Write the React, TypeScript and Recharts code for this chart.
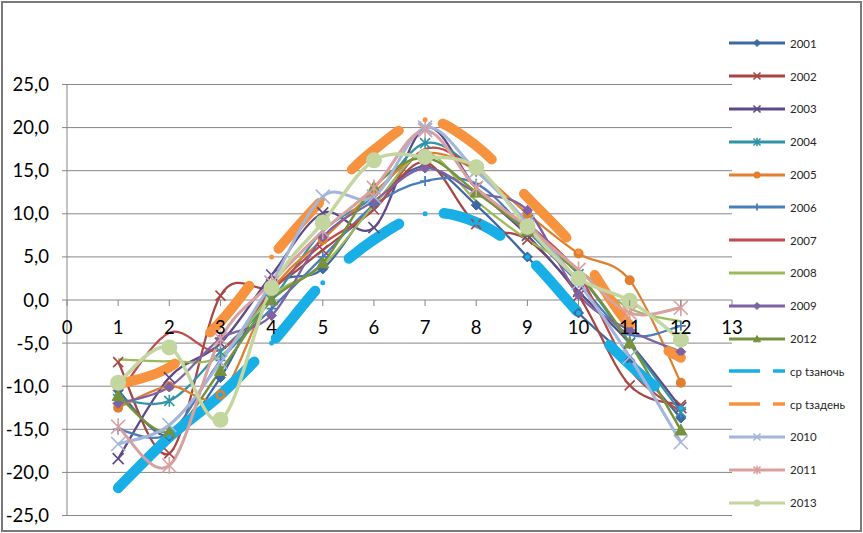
import React from "react";
import { LineChart, Line, XAxis, YAxis, CartesianGrid, Legend } from "recharts";

const MONTHS = [1, 2, 3, 4, 5, 6, 7, 8, 9, 10, 11, 12];
const X_TICKS = [0, 1, 2, 3, 4, 5, 6, 7, 8, 9, 10, 11, 12, 13];
const Y_TICKS = [-25, -20, -15, -10, -5, 0, 5, 10, 15, 20, 25];

const Y2001 = [-10.5, -15.8, -9.0, 1.5, 3.6, 11.2, 15.5, 11.0, 5.0, -1.5, -7.0, -13.7];
const Y2002 = [-7.2, -17.8, 0.5, 1.5, 5.8, 10.5, 16.0, 8.8, 7.0, 0.5, -9.9, -12.2];
const Y2003 = [-18.4, -9.0, -5.0, 2.9, 10.1, 8.4, 20.0, 13.0, 7.5, 1.0, -5.0, -12.5];
const Y2004 = [-11.5, -11.7, -6.0, 0.0, 8.0, 12.0, 18.2, 15.0, 9.0, 3.0, -5.0, -13.0];
const Y2005 = [-12.5, -10.0, -11.0, 1.0, 7.0, 12.5, 17.0, 15.0, 10.0, 5.4, 2.3, -9.6];
const Y2006 = [-15.0, -15.5, -7.0, -1.0, 5.0, 11.0, 13.8, 13.5, 8.0, 2.0, -4.0, -3.0];
const Y2007 = [-11.0, -3.8, -5.8, 1.0, 6.5, 10.5, 17.5, 15.0, 9.0, 3.0, -8.0, -13.0];
const Y2008 = [-6.9, -7.1, -6.5, 0.5, 4.0, 11.0, 17.0, 11.5, 7.0, 3.5, -1.0, -2.5];
const Y2009 = [-12.0, -10.1, -4.5, -1.8, 7.3, 11.5, 15.3, 12.5, 10.4, 0.6, -3.5, -6.0];
const Y2012 = [-11.1, -15.3, -8.2, 0.0, 4.3, 13.1, 16.5, 12.5, 8.0, 3.0, -5.0, -15.1];
const NIGHT = [-21.8, -15.9, -11.0, -5.0, 2.0, 7.0, 10.0, 9.0, 5.0, -1.5, -7.5, -12.5];
const DAY = [-9.8, -7.8, -2.5, 5.0, 11.7, 17.4, 20.9, 17.9, 11.9, 5.6, -2.9, -6.7];
const Y2010 = [-16.7, -14.5, -7.2, 2.0, 12.0, 12.0, 20.0, 15.0, 9.0, 2.0, -6.6, -16.5];
const Y2011 = [-14.7, -19.2, -4.5, 2.0, 8.0, 13.0, 19.7, 13.0, 8.5, 3.5, -1.5, -0.9];
const Y2013 = [-9.6, -5.5, -13.9, 1.4, 9.0, 16.2, 16.6, 15.4, 8.5, 2.5, -0.1, -4.6];

type Shape = "none" | "circle" | "diamond" | "triangle" | "x" | "star" | "plus" | "dot";

interface SeriesDef {
  key: string;
  name: string;
  values: number[];
  color: string;
  width: number;
  dash?: string;
  marker: Shape;
  size: number;
}

const NIGHT_DASH = "186 32 61 47 61 47 61 47 61 47 61 47 61 47 61 47 61 47";
const DAY_DASH = "61 47";

const SERIES: SeriesDef[] = [
  { key: "s2001", name: "2001", values: Y2001, color: "#3E68A3", width: 2.25, marker: "diamond", size: 5 },
  { key: "s2002", name: "2002", values: Y2002, color: "#A84644", width: 2.25, marker: "x", size: 5 },
  { key: "s2003", name: "2003", values: Y2003, color: "#5E4A86", width: 2.25, marker: "x", size: 5.5 },
  { key: "s2004", name: "2004", values: Y2004, color: "#3193A8", width: 2.25, marker: "star", size: 5 },
  { key: "s2005", name: "2005", values: Y2005, color: "#E0802F", width: 2.25, marker: "circle", size: 5 },
  { key: "s2006", name: "2006", values: Y2006, color: "#4A7EBB", width: 2.25, marker: "plus", size: 5 },
  { key: "s2007", name: "2007", values: Y2007, color: "#BE4B48", width: 2.25, marker: "none", size: 0 },
  { key: "s2008", name: "2008", values: Y2008, color: "#9BBB59", width: 2.25, marker: "none", size: 0 },
  { key: "s2009", name: "2009", values: Y2009, color: "#7E62A1", width: 2.25, marker: "diamond", size: 5 },
  { key: "s2012", name: "2012", values: Y2012, color: "#76923C", width: 2.5, marker: "triangle", size: 6 },
  { key: "night", name: "ср tзаночь", values: NIGHT, color: "#18AEE6", width: 10.5, dash: NIGHT_DASH, marker: "dot", size: 2.5 },
  { key: "day", name: "ср tзадень", values: DAY, color: "#F7923F", width: 10, dash: DAY_DASH, marker: "dot", size: 2.5 },
  { key: "s2010", name: "2010", values: Y2010, color: "#A3B5DA", width: 3, marker: "x", size: 7 },
  { key: "s2011", name: "2011", values: Y2011, color: "#D9A0A0", width: 3, marker: "star", size: 7 },
  { key: "s2013", name: "2013", values: Y2013, color: "#C4D6A0", width: 3.5, marker: "circle", size: 8 },
];

const DATA = MONTHS.map((m, i) => {
  const row: Record<string, number> = { m };
  SERIES.forEach((s) => {
    row[s.key] = s.values[i];
  });
  return row;
});

const Y_MIN = -25;
const Y_MAX = 25;
const PLOT_TOP = 84.5;
const PLOT_H = 431;
const ZERO_SHIFT = (PLOT_H * (0 - Y_MIN)) / (Y_MAX - Y_MIN);
const GRID = "#868686";
const FONT = "Lato, 'Open Sans', sans-serif";

// Excel-like smoothing (Catmull-Rom through the points)
function excelCurve(context: any) {
  let xs: number[] = [];
  let ys: number[] = [];
  return {
    areaStart() {},
    areaEnd() {},
    lineStart() {
      xs = [];
      ys = [];
    },
    point(x: number, y: number) {
      xs.push(+x);
      ys.push(+y);
    },
    lineEnd() {
      const n = xs.length;
      if (!n) return;
      context.moveTo(xs[0], ys[0]);
      for (let i = 0; i < n - 1; i++) {
        const i0 = Math.max(0, i - 1);
        const i3 = Math.min(n - 1, i + 2);
        const c1x = xs[i] + (xs[i + 1] - xs[i0]) / 6;
        const c1y = ys[i] + (ys[i + 1] - ys[i0]) / 6;
        const c2x = xs[i + 1] - (xs[i3] - xs[i]) / 6;
        const c2y = ys[i + 1] - (ys[i3] - ys[i]) / 6;
        context.bezierCurveTo(c1x, c1y, c2x, c2y, xs[i + 1], ys[i + 1]);
      }
    },
  };
}

function Marker({ shape, cx, cy, color, s }: { shape: Shape; cx: number; cy: number; color: string; s: number }) {
  switch (shape) {
    case "circle":
    case "dot":
      return <circle cx={cx} cy={cy} r={s} fill={color} stroke="none" />;
    case "diamond":
      return (
        <polygon
          points={`${cx},${cy - s} ${cx + s},${cy} ${cx},${cy + s} ${cx - s},${cy}`}
          fill={color}
          stroke={color}
          strokeWidth={1}
        />
      );
    case "triangle":
      return (
        <polygon
          points={`${cx},${cy - s} ${cx + s},${cy + s * 0.8} ${cx - s},${cy + s * 0.8}`}
          fill={color}
          stroke={color}
          strokeWidth={1}
        />
      );
    case "x":
      return (
        <path
          d={`M${cx - s},${cy - s}L${cx + s},${cy + s}M${cx - s},${cy + s}L${cx + s},${cy - s}`}
          stroke={color}
          strokeWidth={1.6}
          fill="none"
        />
      );
    case "star":
      return (
        <path
          d={`M${cx - s},${cy - s}L${cx + s},${cy + s}M${cx - s},${cy + s}L${cx + s},${cy - s}M${cx},${cy - s * 1.2}L${cx},${cy + s * 1.2}`}
          stroke={color}
          strokeWidth={1.6}
          fill="none"
        />
      );
    case "plus":
      return (
        <path
          d={`M${cx - s},${cy}L${cx + s},${cy}M${cx},${cy - s}L${cx},${cy + s}`}
          stroke={color}
          strokeWidth={1.8}
          fill="none"
        />
      );
    default:
      return null;
  }
}

function makeDot(s: SeriesDef) {
  return (p: any) => {
    if (s.marker === "none" || p.cx == null || p.cy == null) return <g key={`d-${s.key}-${p.index}`} />;
    return (
      <g key={`d-${s.key}-${p.index}`}>
        <Marker shape={s.marker} cx={p.cx} cy={p.cy} color={s.color} s={s.size} />
      </g>
    );
  };
}

function renderXTick(props: any) {
  const { x, y, payload } = props;
  const y0 = y - ZERO_SHIFT;
  return (
    <g key={`xt-${payload.value}`}>
      <line x1={x} x2={x} y1={y0} y2={y0 + 6} stroke={GRID} strokeWidth={1} />
      <text
        x={x}
        y={y0 + 27}
        textAnchor="middle"
        dominantBaseline="central"
        fontFamily={FONT}
        fontSize={18.5}
        fill="#000"
      >
        {payload.value}
      </text>
    </g>
  );
}

const fmtY = (v: number) => v.toFixed(1).replace(".", ",");

function LegendContent() {
  return (
    <div style={{ fontFamily: FONT, fontSize: 11.5, color: "#262626" }}>
      {SERIES.map((s) => {
        const dashed = !!s.dash;
        return (
          <div key={s.key} style={{ height: 32.8, display: "flex", alignItems: "center" }}>
            <svg width={60} height={14} style={{ display: "block" }}>
              <line
                x1={2}
                x2={58}
                y1={7}
                y2={7}
                stroke={s.color}
                strokeWidth={dashed ? 3.5 : 3}
                strokeDasharray={dashed ? "31 13" : undefined}
              />
              {s.marker !== "none" && s.marker !== "dot" && (
                <Marker shape={s.marker} cx={30} cy={7} color={s.color} s={Math.min(3.5, s.size)} />
              )}
            </svg>
            <span style={{ marginLeft: 3, whiteSpace: "nowrap" }}>{s.name}</span>
          </div>
        );
      })}
    </div>
  );
}

export default function App() {
  return (
    <div style={{ position: "absolute", left: 0, top: 0, width: 863, height: 533, background: "#fff" }}>
      <LineChart
        width={863}
        height={533}
        data={DATA}
        margin={{ top: PLOT_TOP, right: 131, bottom: 7.5, left: 7 }}
        style={{ fontFamily: FONT }}
      >
        <CartesianGrid vertical={false} stroke={GRID} strokeWidth={1} />
        <XAxis
          dataKey="m"
          type="number"
          domain={[0, 13]}
          ticks={X_TICKS}
          allowDataOverflow
          height={10}
          axisLine={false}
          tickLine={false}
          tickSize={0}
          tickMargin={0}
          interval={0}
          tick={renderXTick}
        />
        <YAxis
          type="number"
          domain={[Y_MIN, Y_MAX]}
          ticks={Y_TICKS}
          allowDataOverflow
          width={60}
          tickFormatter={fmtY}
          axisLine={{ stroke: GRID, strokeWidth: 1 }}
          tickLine={{ stroke: GRID, strokeWidth: 1 }}
          tickSize={5}
          tickMargin={13}
          interval={0}
          tick={{ fill: "#000", fontSize: 18.5, fontFamily: FONT }}
        />
        <Legend
          layout="horizontal"
          align="center"
          verticalAlign="middle"
          content={<LegendContent />}
          wrapperStyle={{ left: 727, top: 27, width: 136, height: 495 }}
        />
        {SERIES.map((s) => (
          <Line
            key={s.key}
            dataKey={s.key}
            name={s.name}
            type={excelCurve as any}
            stroke={s.color}
            strokeWidth={s.width}
            strokeDasharray={s.dash}
            strokeLinecap={s.dash ? "round" : "butt"}
            dot={makeDot(s)}
            activeDot={false}
            isAnimationActive={false}
          />
        ))}
      </LineChart>
      <div
        style={{
          position: "absolute",
          left: 1,
          top: 1,
          width: 861,
          height: 531,
          border: "2px solid #7a7a7a",
          boxSizing: "border-box",
          pointerEvents: "none",
        }}
      />
    </div>
  );
}
